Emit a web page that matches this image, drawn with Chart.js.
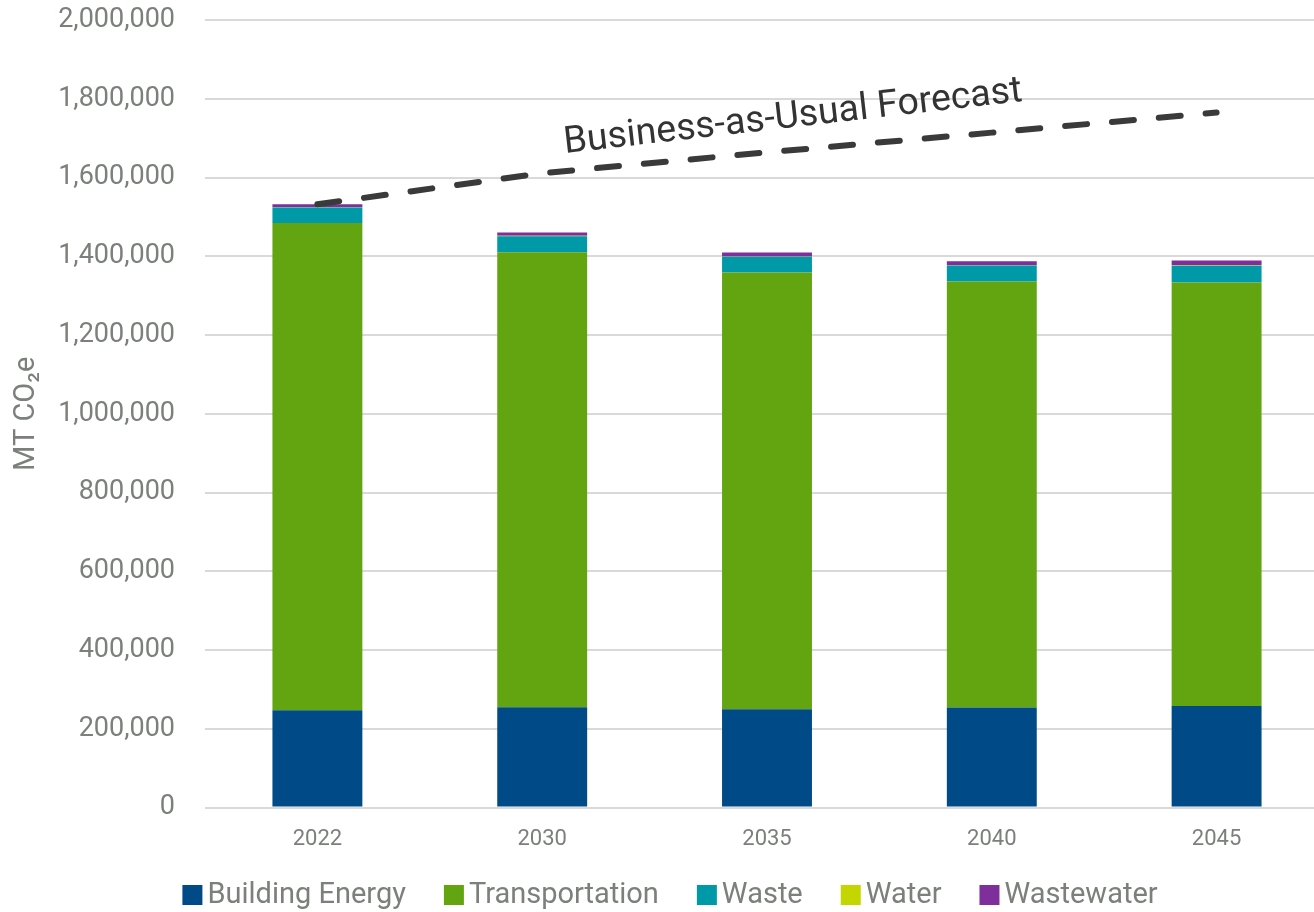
<!DOCTYPE html>
<html>
<head>
<meta charset="utf-8">
<script src="https://cdn.jsdelivr.net/npm/chart.js@4/dist/chart.umd.min.js"></script>
<style>
  html, body { margin: 0; padding: 0; background: #fff; overflow: hidden; }
  #wrap { width: 1314px; height: 912px; position: relative; overflow: hidden; }
  /* plot runs a little past the right edge, so the canvas is wider than the frame */
  #emissionsChart { display: block; }
</style>
</head>
<body>
<div id="wrap"><canvas id="emissionsChart" width="1329" height="912"></canvas></div>
<script>
// years on the x axis
const years = ['2022', '2030', '2035', '2040', '2045'];

// emissions by sector, MT CO2e
const buildingEnergy = [247000, 255000, 250000, 254000, 258000];
const transportation = [1237500, 1155400, 1108900, 1081700, 1075600];
const waste = [39200, 40600, 39700, 40600, 42400];
const water = [1000, 1000, 1000, 1000, 1000];
const wastewater = [7500, 8500, 10000, 10000, 12000];

// business-as-usual total
const bauForecast = [1532000, 1611000, 1664000, 1714000, 1765000];

const yTicks = [0, 200000, 400000, 600000, 800000, 1000000, 1200000, 1400000, 1600000, 1800000, 2000000];

const FONT = 'Roboto, "Liberation Sans", sans-serif';
const TEXT_GRAY = '#7b807b';
const VISIBLE_WIDTH = 1314;
const Y_AXIS_WIDTH = 205;

// rotated caption that runs along the forecast line
const bauLabel = {
    id: 'bauLabel',
    afterDatasetsDraw(chart) {
        const { ctx, scales } = chart;
        const x = scales.x.getPixelForValue(2) + 26;
        const y = scales.y.getPixelForValue(1752000);
        ctx.save();
        ctx.translate(x, y);
        ctx.rotate(-6.5 * Math.PI / 180);
        ctx.font = '37.5px ' + FONT;
        ctx.fillStyle = '#333333';
        ctx.textAlign = 'center';
        ctx.textBaseline = 'middle';
        ctx.fillText('Business-as-Usual Forecast', 0, 0);
        ctx.restore();
    }
};

// legend row under the axis: square swatch + sector name
const sectorLegend = {
    id: 'sectorLegend',
    afterDraw(chart) {
        const { ctx, height } = chart;
        const items = chart.data.datasets.filter(d => d.type === 'bar');
        const box = 20, gapText = 5, gapItem = 38;
        ctx.save();
        ctx.font = '29px ' + FONT;
        ctx.textBaseline = 'middle';
        const widths = items.map(d => box + gapText + ctx.measureText(d.label).width);
        const total = widths.reduce((a, b) => a + b, 0) + gapItem * (items.length - 1);
        let x = VISIBLE_WIDTH / 2 + 13 - total / 2;
        const y = height - 17;
        items.forEach((d, i) => {
            ctx.fillStyle = d.backgroundColor;
            ctx.fillRect(x, y - box / 2, box, box);
            ctx.fillStyle = TEXT_GRAY;
            ctx.fillText(d.label, x + box + gapText, y + 1);
            x += widths[i] + gapItem;
        });
        ctx.restore();
    }
};

document.addEventListener('DOMContentLoaded', () => {
    const ctx = document.getElementById('emissionsChart').getContext('2d');

    const barSet = (label, data, color) => ({
        type: 'bar',
        label: label,
        data: data,
        backgroundColor: color,
        borderWidth: 0,
        stack: 'sectors',
        order: 2
    });

    new Chart(ctx, {
        data: {
            labels: years,
            datasets: [
                barSet('Building Energy', buildingEnergy, '#004a87'),
                barSet('Transportation', transportation, '#62a511'),
                barSet('Waste', waste, '#0099a7'),
                barSet('Water', water, '#c4d600'),
                barSet('Wastewater', wastewater, '#7e2f9c'),
                {
                    type: 'line',
                    label: 'Business-as-Usual Forecast',
                    data: bauForecast,
                    stack: 'bau',
                    borderColor: '#3a3a3a',
                    borderWidth: 6,
                    borderDash: [22, 25],
                    borderCapStyle: 'round',
                    pointRadius: 0,
                    fill: false,
                    tension: 0,
                    order: 1
                }
            ]
        },
        options: {
            responsive: false,
            animation: false,
            layout: { padding: { top: 20, right: 0, left: 0, bottom: 40 } },
            datasets: {
                bar: { barPercentage: 0.4, categoryPercentage: 1.0 }
            },
            plugins: {
                legend: { display: false },
                tooltip: { enabled: false }
            },
            scales: {
                x: {
                    stacked: true,
                    grid: { display: false, drawTicks: false },
                    border: { display: false },
                    ticks: {
                        padding: 19,
                        color: TEXT_GRAY,
                        font: { family: FONT, size: 22 }
                    }
                },
                y: {
                    stacked: true,
                    min: 0,
                    max: 2000000,
                    afterBuildTicks: (axis) => {
                        axis.ticks = yTicks.map(v => ({ value: v }));
                    },
                    // fixed axis width; top/bottom labels may overhang the plot edges
                    afterFit: (axis) => {
                        axis.width = Y_AXIS_WIDTH;
                        axis.paddingTop = 0;
                        axis.paddingBottom = 0;
                    },
                    grid: { color: '#d9d9d9', lineWidth: 2, drawTicks: false },
                    border: { display: false },
                    ticks: {
                        padding: 30,
                        color: TEXT_GRAY,
                        font: { family: FONT, size: 27 }
                    },
                    title: {
                        display: true,
                        text: 'MT CO₂e',
                        color: TEXT_GRAY,
                        font: { family: FONT, size: 29 },
                        padding: { top: 9, bottom: 8 }
                    }
                }
            }
        },
        plugins: [bauLabel, sectorLegend]
    });
});
</script>
</body>
</html>
